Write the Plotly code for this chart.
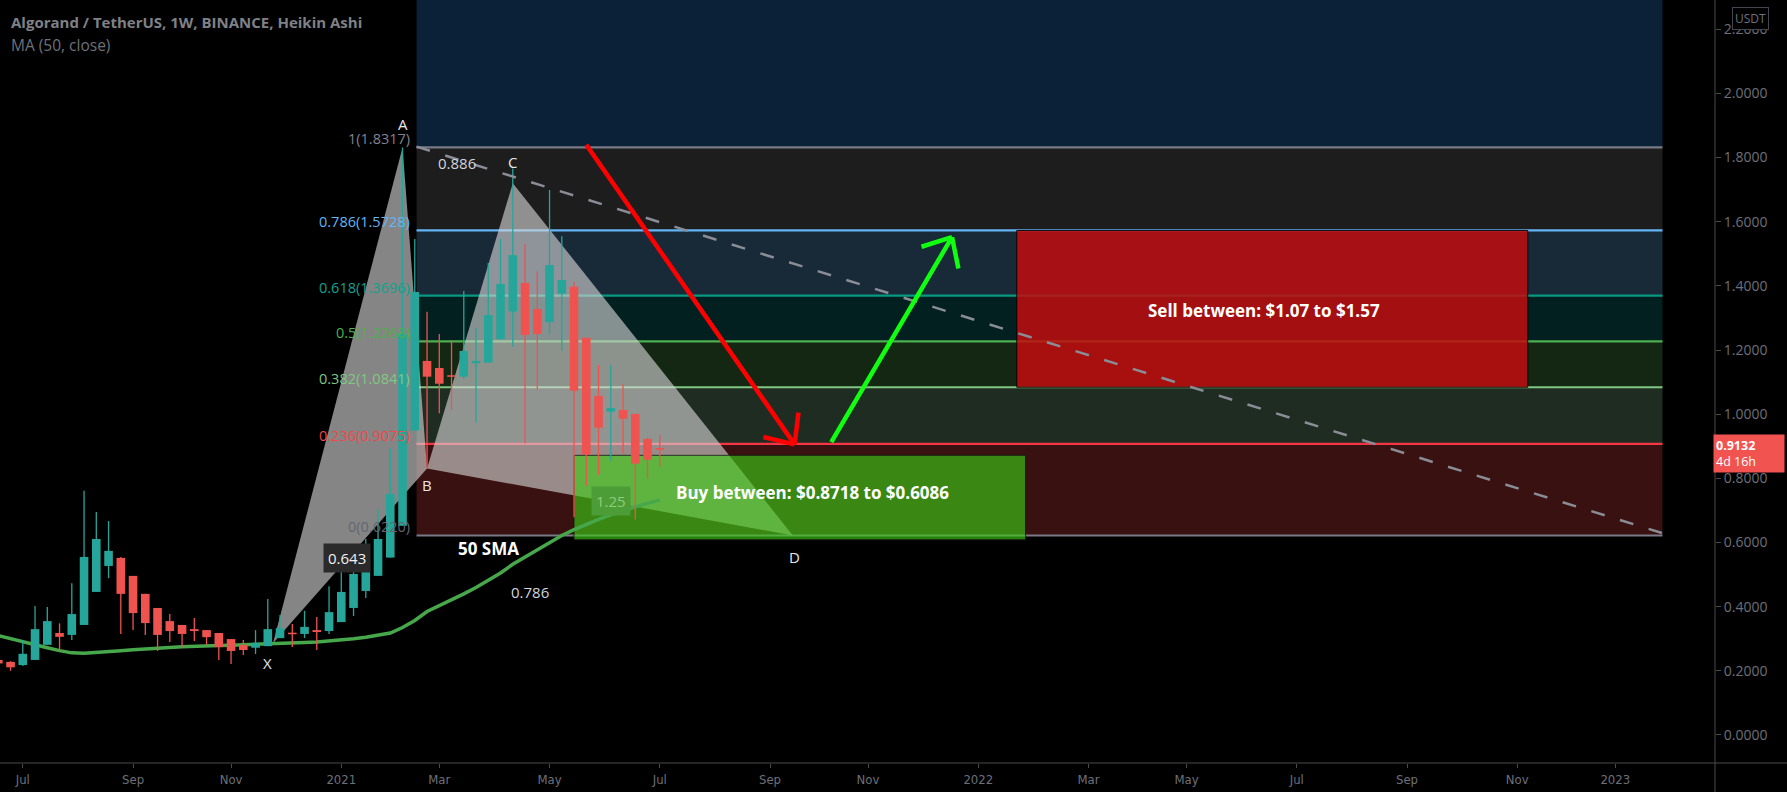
import numpy as np
import pandas as pd
import plotly.graph_objects as go

# ALGO/USDT weekly Heikin Ashi bars, first bar = week of 2020-06-22
first_week = "2020-06-22"
ha_open = [0.234, 0.228, 0.218, 0.234, 0.281, 0.318, 0.312, 0.343, 0.446, 0.527,
           0.552, 0.496, 0.440, 0.396, 0.355, 0.343, 0.330, 0.327, 0.318, 0.299,
           0.281, 0.272, 0.277, 0.302, 0.318, 0.315, 0.327, 0.324, 0.352, 0.396,
           0.449, 0.496, 0.553, 0.652, 0.949, 1.166, 1.144, 1.121, 1.117, 1.159,
           1.161, 1.234, 1.320, 1.409, 1.328, 1.287, 1.375, 1.397, 1.238, 1.057,
           1.008, 1.013, 1.001, 0.923, 0.894]
ha_high = [0.236, 0.230, 0.296, 0.402, 0.399, 0.348, 0.473, 0.761, 0.695, 0.667,
           0.555, 0.496, 0.440, 0.396, 0.377, 0.343, 0.365, 0.327, 0.318, 0.299,
           0.296, 0.327, 0.424, 0.374, 0.346, 0.387, 0.368, 0.464, 0.533, 0.590,
           0.611, 0.704, 0.892, 1.8317, 1.546, 1.319, 1.250, 1.231, 1.384, 1.269,
           1.471, 1.546, 1.766, 1.531, 1.446, 1.699, 1.555, 1.412, 1.238, 1.153,
           1.153, 1.094, 1.001, 0.927, 0.935]
ha_low = [0.220, 0.200, 0.215, 0.234, 0.281, 0.260, 0.296, 0.343, 0.446, 0.489,
          0.315, 0.327, 0.312, 0.262, 0.290, 0.274, 0.293, 0.281, 0.234, 0.221,
          0.249, 0.2525, 0.277, 0.302, 0.274, 0.302, 0.265, 0.315, 0.352, 0.371,
          0.427, 0.496, 0.553, 0.652, 0.949, 0.831, 1.003, 1.013, 1.109, 0.974,
          1.161, 1.234, 1.210, 0.909, 1.078, 1.250, 1.197, 0.679, 0.777, 0.811,
          0.855, 0.877, 0.672, 0.799, 0.836]
ha_close = [0.223, 0.211, 0.253, 0.330, 0.355, 0.306, 0.377, 0.555, 0.611, 0.574,
            0.440, 0.380, 0.349, 0.312, 0.324, 0.315, 0.324, 0.305, 0.274, 0.262,
            0.265, 0.287, 0.330, 0.333, 0.315, 0.337, 0.321, 0.383, 0.446, 0.502,
            0.549, 0.611, 0.751, 1.250, 1.381, 1.117, 1.095, 1.117, 1.197, 1.166,
            1.309, 1.406, 1.496, 1.247, 1.250, 1.465, 1.418, 1.073, 0.874, 0.958,
            1.019, 0.986, 0.846, 0.858, 0.890]
sma50 = [0.310, 0.300, 0.291, 0.282, 0.272, 0.263, 0.256, 0.255, 0.257, 0.260,
         0.263, 0.266, 0.269, 0.271, 0.273, 0.275, 0.277, 0.278, 0.279, 0.280,
         0.281, 0.282, 0.283, 0.284, 0.286, 0.288, 0.290, 0.293, 0.296, 0.300,
         0.305, 0.311, 0.318, 0.335, 0.357, 0.385, 0.403, 0.421, 0.440, 0.460,
         0.482, 0.505, 0.532, 0.555, 0.578, 0.601, 0.622, 0.640, 0.657, 0.672,
         0.686, 0.699, 0.711, 0.722, 0.733]
weeks = pd.date_range(first_week, periods=len(ha_open), freq="7D")

last_price = 0.9132
bar_countdown = "4d 16h"

# fib retracement drawn from 0 to 1
fib_low, fib_high = 0.621951, 1.8317
fib_ratios = [1, 0.786, 0.618, 0.5, 0.382, 0.236, 0]
fib_line_colors = ["#787b86", "#64b5f6", "#089981", "#4caf50", "#81c784", "#f23645", "#787b86"]
fib_label_colors = ["#808390", "#64b5f6", "#13a08c", "#4caf50", "#81c784", "#f04848", "#62656f"]
fib_zone_fills = ["#0a2137", "#1d1d1e", "#182938", "#02201f", "#132713", "#1f2c21", "#391111"]
fib_start, fib_end = "2021-02-16", "2023-01-29"

# XABCD harmonic pattern
pattern_names = ["X", "A", "B", "C", "D"]
pattern_dates = ["2020-11-26", "2021-02-08", "2021-02-22", "2021-04-12", "2021-09-19"]
pattern_prices = [0.286, 1.8317, 0.831, 1.720, 0.622]

buy_low, buy_high = 0.6086, 0.8718
sell_low, sell_high = 1.0841, 1.5728

month_ticks = ["2020-07-06", "2020-09-07", "2020-11-02", "2021-01-04", "2021-03-01",
               "2021-05-03", "2021-07-05", "2021-09-06", "2021-11-01", "2022-01-03",
               "2022-03-07", "2022-05-02", "2022-07-04", "2022-09-05", "2022-11-07",
               "2023-01-02"]
month_labels = ["Jul", "Sep", "Nov", "2021", "Mar", "May", "Jul", "Sep", "Nov", "2022",
                "Mar", "May", "Jul", "Sep", "Nov", "2023"]
price_ticks = [0.0, 0.2, 0.4, 0.6, 0.8, 1.0, 1.2, 1.4, 1.6, 1.8, 2.0, 2.2]

UP, DOWN = "#26a69a", "#ef5350"
FONT = "Open Sans, Noto Sans, sans-serif"

# view window and pixel helpers (used for the arrow heads)
W, H = 1787, 792
MARGIN = dict(l=0, r=72, t=0, b=29)
t_ref = pd.Timestamp(first_week)
x_lo_days, x_hi_days = 0.97, 981.0
y_lo, y_hi = -0.0873, 2.2912
px_day = (W - MARGIN["l"] - MARGIN["r"]) / (x_hi_days - x_lo_days)
px_unit = (H - MARGIN["t"] - MARGIN["b"]) / (y_hi - y_lo)


def to_px(date, price):
    d = (pd.Timestamp(date) - t_ref) / pd.Timedelta(days=1)
    return d * px_day, -price * px_unit


def from_px(px, py):
    ts = t_ref + pd.Timedelta(days=px / px_day)
    return ts.strftime("%Y-%m-%d %H:%M:%S"), -py / px_unit


fig = go.Figure()

# fib zones + level lines
fib_prices = [fib_low + r * (fib_high - fib_low) for r in fib_ratios]
zone_edges = [2.8] + fib_prices
for i, fill in enumerate(fib_zone_fills):
    fig.add_shape(type="rect", x0=fib_start, x1=fib_end, y0=zone_edges[i + 1], y1=zone_edges[i],
                  fillcolor=fill, line_width=0, layer="below")
for p, c in zip(fib_prices, fib_line_colors):
    fig.add_shape(type="line", x0=fib_start, x1=fib_end, y0=p, y1=p,
                  line=dict(color=c, width=2.2), layer="below")

# harmonic triangles XAB and BCD
def tri_path(idx):
    pts = [f"{pattern_dates[i]},{pattern_prices[i]}" for i in idx]
    return "M" + " L".join(pts) + " Z"

for idx in ([0, 1, 2], [2, 3, 4]):
    fig.add_shape(type="path", path=tri_path(idx), fillcolor="rgba(215,215,215,0.62)",
                  line_width=0, layer="below")

# sell / buy zones
fig.add_shape(type="rect", x0="2022-01-25", x1="2022-11-13", y0=sell_low, y1=sell_high,
              fillcolor="rgba(196,12,14,0.84)", line=dict(color="rgba(0,0,0,0.9)", width=1),
              layer="below")
fig.add_shape(type="rect", x0="2021-05-17", x1="2022-01-30", y0=buy_low, y1=buy_high,
              fillcolor="rgba(60,205,20,0.63)", line=dict(color="rgba(20,20,20,0.8)", width=1),
              layer="below")

# 50 week SMA
fig.add_trace(go.Scatter(x=weeks, y=sma50, mode="lines", line=dict(color="#46a84a", width=3.5),
                         hoverinfo="skip"))

# Heikin Ashi candles: wicks then bodies
for color, rising in ((UP, True), (DOWN, False)):
    wx, wy, bx, by = [], [], [], []
    for d, o, h, l, c in zip(weeks, ha_open, ha_high, ha_low, ha_close):
        if (c >= o) != rising:
            continue
        wx += [d, d, None]
        wy += [l, h, None]
        lo, hi = min(o, c), max(o, c)
        if hi - lo < 0.005:
            mid = (hi + lo) / 2
            lo, hi = mid - 0.0025, mid + 0.0025
        bx += [d, d, None]
        by += [lo, hi, None]
    fig.add_trace(go.Scatter(x=wx, y=wy, mode="lines", line=dict(color=color, width=1.3),
                             hoverinfo="skip"))
    fig.add_trace(go.Scatter(x=bx, y=by, mode="lines", line=dict(color=color, width=8.6),
                             hoverinfo="skip"))

# dashed trend line from A
fig.add_shape(type="line", x0=fib_start, y0=1.834, x1=fib_end, y1=0.629,
              line=dict(color="#8a8d96", width=2.5, dash="14px,16px"), layer="above")


def add_arrow(start, end, color, head_len=32, head_deg=42):
    fig.add_shape(type="line", x0=start[0], y0=start[1], x1=end[0], y1=end[1],
                  line=dict(color=color, width=4.5), layer="above")
    sx, sy = to_px(*start)
    ex, ey = to_px(*end)
    ang = np.arctan2(sy - ey, sx - ex)
    for s in (-1, 1):
        a = ang + s * np.radians(head_deg)
        hx, hy = from_px(ex + head_len * np.cos(a), ey + head_len * np.sin(a))
        fig.add_shape(type="line", x0=end[0], y0=end[1], x1=hx, y1=hy,
                      line=dict(color=color, width=4.5), layer="above")


add_arrow(("2021-05-24", 1.840), ("2021-09-20", 0.906), "#ff0000")
add_arrow(("2021-10-11", 0.913), ("2021-12-19", 1.552), "#11ff11")

ann = []
# fib labels left of the retracement
for r, p, c in zip(fib_ratios, fib_prices, fib_label_colors):
    ann.append(dict(x=fib_start, y=p, text=f"{r:g}({p:.4f})", xanchor="right", yanchor="bottom",
                    xshift=-5, yshift=-3, showarrow=False, font=dict(family=FONT, size=14.5, color=c)))

# pattern point names
name_pos = {"X": ("2020-11-23", 0.2235), "A": ("2021-02-08", 1.905), "B": ("2021-02-22", 0.778),
            "C": ("2021-04-12", 1.787), "D": ("2021-09-20", 0.554)}
for n in pattern_names:
    x, y = name_pos[n]
    ann.append(dict(x=x, y=y, text=n, showarrow=False, font=dict(family=FONT, size=15, color="#e8e8e8")))

ann += [
    dict(x="2021-03-11", y=1.783, text="0.886", showarrow=False,
         font=dict(family=FONT, size=15, color="#d1d4dc")),
    dict(x="2021-04-22", y=0.447, text="0.786", showarrow=False,
         font=dict(family=FONT, size=15, color="#d1d4dc")),
    dict(x="2021-01-07", y=0.552, text="0.643", showarrow=False, bgcolor="#2a2a2b", borderpad=4,
         font=dict(family=FONT, size=15, color="#f0f0f0")),
    dict(x="2021-06-07", y=0.730, text="1.25", showarrow=False, bgcolor="#4c9d38", borderpad=4,
         font=dict(family=FONT, size=15, color="#8fcd78")),
    dict(x="2021-03-29", y=0.582, text="<b>50 SMA</b>", showarrow=False,
         font=dict(family=FONT, size=17, color="#ffffff")),
    dict(x="2022-06-15", y=1.322, text="<b>Sell between: $1.07 to $1.57</b>", showarrow=False,
         font=dict(family=FONT, size=17, color="#ffffff")),
    dict(x="2021-09-30", y=0.757, text="<b>Buy between: $0.8718 to $0.6086</b>", showarrow=False,
         font=dict(family=FONT, size=17, color="#ffffff")),
    # header
    dict(xref="paper", yref="paper", x=0, y=1, xanchor="left", yanchor="top", xshift=9, yshift=-10,
         text="<b>Algorand / TetherUS, 1W, BINANCE, Heikin Ashi</b>", showarrow=False,
         font=dict(family=FONT, size=15, color="#7f8187")),
    dict(xref="paper", yref="paper", x=0, y=1, xanchor="left", yanchor="top", xshift=9, yshift=-32,
         text="MA (50, close)", showarrow=False, font=dict(family=FONT, size=15.5, color="#6f7177")),
    # axis badges
    dict(xref="paper", yref="paper", x=1, y=1, xanchor="left", yanchor="top", xshift=17, yshift=-7,
         text="USDT", showarrow=False, bgcolor="#000000", bordercolor="#434651", borderwidth=1,
         borderpad=2, font=dict(family=FONT, size=12, color="#6d7079")),
    dict(xref="paper", yref="y", x=1, y=last_price, xanchor="left", yanchor="top", xshift=-2, yshift=8,
         text=f"<b>{last_price:.4f}</b><br>{bar_countdown}", align="left", showarrow=False,
         bgcolor="#f05350", borderpad=2, width=66,
         font=dict(family=FONT, size=12.5, color="#ffffff")),
]

# axis frame lines crossing into the margins
fig.add_shape(type="line", xref="paper", yref="paper", x0=1, x1=1, y0=-0.05, y1=1,
              line=dict(color="#4a4a4a", width=1), layer="above")
fig.add_shape(type="line", xref="paper", yref="paper", x0=0, x1=1.05, y0=0, y1=0,
              line=dict(color="#4a4a4a", width=1), layer="above")

x0 = (t_ref + pd.Timedelta(days=x_lo_days)).strftime("%Y-%m-%d %H:%M:%S")
x1 = (t_ref + pd.Timedelta(days=x_hi_days)).strftime("%Y-%m-%d %H:%M:%S")

fig.update_layout(
    width=W, height=H, margin=MARGIN,
    paper_bgcolor="#000000", plot_bgcolor="#000000",
    showlegend=False, hovermode=False,
    annotations=ann,
    xaxis=dict(type="date", range=[x0, x1], tickvals=month_ticks, ticktext=month_labels,
               showgrid=False, zeroline=False, showline=False, ticks="outside", ticklen=4,
               tickcolor="#4a4a4a",
               tickfont=dict(family="DejaVu Sans Condensed, Liberation Sans Narrow, sans-serif",
                             size=13, color="#6d7079")),
    yaxis=dict(side="right", range=[y_lo, y_hi], tickvals=price_ticks, tickformat=".4f",
               showgrid=False, zeroline=False, showline=False, ticks="outside", ticklen=5,
               tickcolor="#4a4a4a",
               tickfont=dict(family=FONT, size=14, color="#6d7079")),
)

fig.write_html("out.html", config={"displayModeBar": False},
               post_script="document.body.style.margin='0';"
               "document.body.style.overflow='hidden';document.body.style.background='#000';")
